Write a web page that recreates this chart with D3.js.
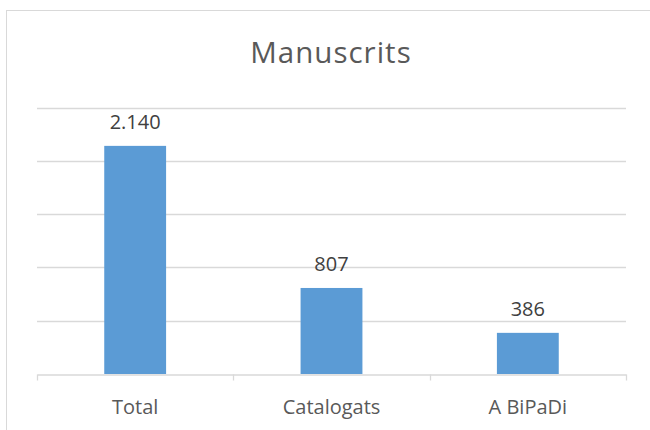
<!DOCTYPE html>
<html>
<head>
<meta charset="utf-8">
<script src="https://cdn.jsdelivr.net/npm/d3@7"></script>
<style>
  body { margin: 0; background: #fff; }
  text { font-family: "Open Sans", sans-serif; }
</style>
</head>
<body>
<div id="chart"></div>
<script>
const categories = ["Total", "Catalogats", "A BiPaDi"];
const values = [2140, 807, 386];
const valueLabels = ["2.140", "807", "386"];
const gridTicks = [0, 500, 1000, 1500, 2000, 2500];

const width = 650, height = 430;
const plotLeft = 37, plotRight = 626, plotTop = 107.5, plotBottom = 374;

const svg = d3.select("#chart").append("svg")
    .attr("width", width)
    .attr("height", height);

// chart frame (runs off the right and bottom edges)
svg.append("rect")
    .attr("x", 6.5).attr("y", 10.5)
    .attr("width", 800).attr("height", 600)
    .attr("fill", "none")
    .attr("stroke", "#d9d9d9");

svg.append("text")
    .attr("x", 331)
    .attr("y", 63)
    .attr("text-anchor", "middle")
    .attr("fill", "#595959")
    .style("font-size", "29.5px")
    .style("letter-spacing", "1px")
    .text("Manuscrits");

const x = d3.scaleBand()
    .domain(categories)
    .range([plotLeft, plotRight])
    .padding(0);

const y = d3.scaleLinear()
    .domain([0, 2500])
    .range([plotBottom, plotTop]);

// gridlines
svg.append("g")
    .selectAll("line")
    .data(gridTicks.filter(d => d > 0))
    .enter().append("line")
    .attr("x1", plotLeft).attr("x2", plotRight)
    .attr("y1", d => Math.round(y(d)) + 0.5)
    .attr("y2", d => Math.round(y(d)) + 0.5)
    .attr("stroke", "#d9d9d9")
    .attr("stroke-width", 1.3);

const barW = x.bandwidth() * 0.315;

svg.append("g")
    .selectAll("rect")
    .data(values)
    .enter().append("rect")
    .attr("x", (d, i) => x(categories[i]) + x.bandwidth() / 2 - barW / 2)
    .attr("y", d => y(d))
    .attr("width", barW)
    .attr("height", d => plotBottom - y(d))
    .attr("fill", "#5b9bd5");

svg.append("g")
    .selectAll("text")
    .data(values)
    .enter().append("text")
    .attr("x", (d, i) => x(categories[i]) + x.bandwidth() / 2)
    .attr("y", d => y(d) - 17)
    .attr("text-anchor", "middle")
    .attr("fill", "#404040")
    .style("font-size", "20px")
    .text((d, i) => valueLabels[i]);

// category axis
const xAxis = d3.axisBottom(x).tickSize(0).tickPadding(0);
const axisG = svg.append("g")
    .attr("transform", `translate(0,${plotBottom + 0.5})`)
    .call(xAxis);
axisG.select(".domain").attr("stroke", "#d9d9d9").attr("stroke-width", 1.3);
axisG.selectAll(".tick text")
    .attr("dy", null)
    .attr("y", 39)
    .attr("fill", "#595959")
    .style("font-family", "'Open Sans', sans-serif")
    .style("font-size", "20px");

// boundary tick marks between categories
const bounds = categories.map(c => x(c)).concat([plotRight]);
axisG.selectAll(".bound")
    .data(bounds)
    .enter().append("line")
    .attr("class", "bound")
    .attr("x1", d => Math.round(d) + 0.5).attr("x2", d => Math.round(d) + 0.5)
    .attr("y1", 0).attr("y2", 6)
    .attr("stroke", "#d9d9d9")
    .attr("stroke-width", 1.3);
</script>
</body>
</html>
